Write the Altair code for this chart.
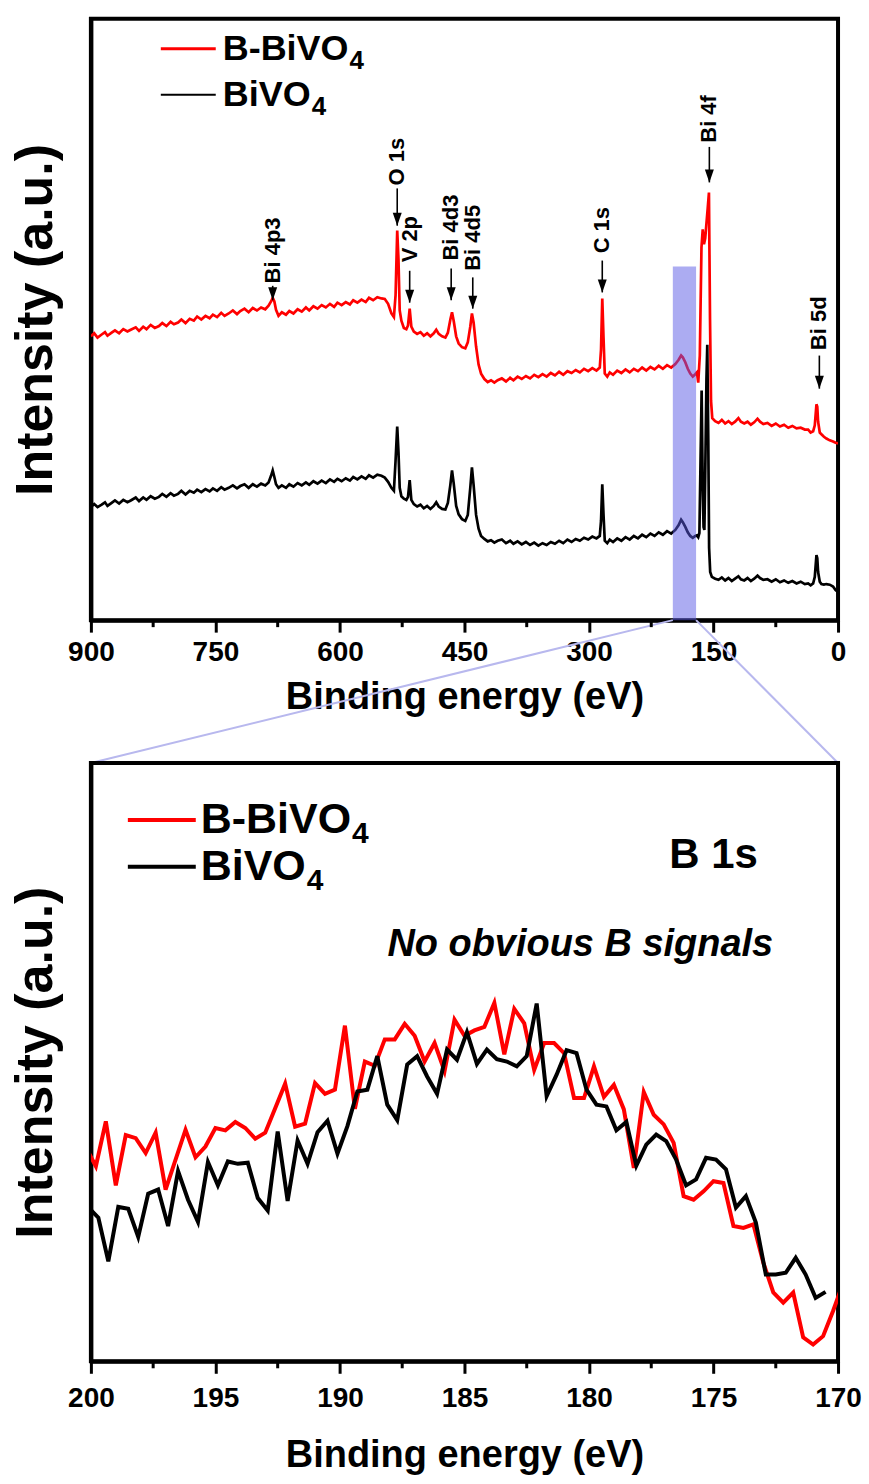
import altair as alt
import pandas as pd

FONT = "Liberation Sans"

# ---------------- survey spectra (energy eV, intensity a.u.) ----------------
survey_red = [
    (900, 47.2), (896, 47.7), (892, 47.0), (887, 47.5), (883, 47.9), (880, 47.3), (875, 47.8), (871, 48.2),
    (866, 47.7), (861, 48.4), (856, 48.0), (852, 48.3), (846, 48.7), (842, 48.1), (837, 48.8), (833, 48.4),
    (828, 49.1), (823, 48.6), (818, 48.9), (814, 49.4), (809, 48.9), (804, 49.6), (800, 49.2), (795, 49.5),
    (791, 50.0), (786, 49.4), (781, 50.1), (776, 49.8), (772, 50.5), (767, 50.0), (762, 50.6), (757, 50.2),
    (753, 50.8), (748, 50.4), (743, 51.1), (739, 50.6), (734, 51.0), (729, 51.5), (724, 50.9), (720, 51.4),
    (715, 51.8), (710, 51.2), (705, 51.9), (700, 51.5), (695, 52.0), (690, 51.7), (686, 52.3), (683, 53.0),
    (681, 53.6), (679, 53.0), (677, 51.6), (674, 50.6), (670, 51.2), (665, 50.8), (661, 51.4), (656, 51.0),
    (651, 51.7), (646, 51.3), (641, 52.0), (637, 51.5), (632, 52.2), (627, 51.8), (622, 52.4), (617, 52.0),
    (612, 52.6), (607, 52.1), (603, 52.8), (598, 52.4), (593, 52.9), (588, 52.5), (584, 53.2), (579, 52.8),
    (574, 53.3), (569, 52.9), (565, 53.6), (560, 53.2), (555, 53.7), (550, 53.5), (546, 53.4), (542, 52.6),
    (538, 51.0), (535, 50.4), (533, 54.0), (531, 64.8), (529.5, 60.0), (528, 51.5), (526, 49.8), (523, 48.6),
    (520, 48.4), (518, 49.0), (516, 51.8), (514, 48.8), (511, 48.0), (507, 47.6), (503, 47.9), (499, 47.3),
    (495, 47.7), (491, 47.2), (487, 47.7), (484, 48.3), (481, 47.6), (477, 47.2), (473, 47.0), (470, 47.8),
    (467, 50.0), (465, 51.2), (463, 49.8), (460, 47.2), (457, 46.0), (453, 45.4), (449, 45.2), (446, 46.2),
    (443, 48.8), (441, 51.0), (439, 49.5), (436, 45.5), (433, 42.5), (430, 41.0), (426, 40.1), (422, 39.6),
    (418, 39.9), (414, 39.5), (410, 39.9), (405, 40.2), (400, 39.7), (395, 40.3), (391, 39.9), (386, 40.5),
    (381, 40.1), (376, 40.6), (371, 40.2), (366, 40.8), (361, 40.4), (356, 40.9), (351, 40.5), (346, 41.1),
    (341, 40.7), (336, 41.3), (331, 40.8), (326, 41.4), (321, 41.1), (316, 41.6), (311, 41.2), (306, 41.8),
    (301, 41.4), (296, 41.9), (291, 41.5), (287, 42.0), (285.5, 45.0), (284, 53.5), (282.5, 47.0), (281, 41.0),
    (278, 40.5), (275, 41.2), (271, 40.8), (266, 41.5), (261, 41.1), (256, 41.7), (251, 41.2), (246, 41.8),
    (241, 41.4), (236, 42.0), (231, 41.5), (226, 42.1), (221, 41.7), (216, 42.3), (211, 41.8), (206, 42.4),
    (201, 42.0), (196, 42.6), (192, 43.3), (189, 44.0), (187, 43.7), (184, 42.9), (181, 41.8), (178, 41.0),
    (175, 40.5), (172, 40.9), (170, 41.2), (168.4, 39.5), (166.5, 44.0), (164.5, 62.0), (163, 65.0),
    (161.5, 62.5), (160, 63.5), (158.5, 66.0), (157, 68.5), (155.5, 71.1), (154.2, 50.0), (153, 36.5),
    (151.5, 33.6), (148, 33.1), (144, 32.8), (140, 33.3), (136, 32.7), (132, 33.1), (128, 32.6), (124, 33.0),
    (120, 33.6), (117, 33.0), (113, 32.7), (109, 33.0), (105, 32.5), (101, 32.9), (97, 33.5), (94, 33.0),
    (90, 32.6), (85, 32.8), (80, 32.3), (75, 32.7), (70, 32.2), (65, 32.5), (60, 32.0), (55, 32.3),
    (50, 31.9), (45, 32.0), (40, 31.7), (36, 31.7), (33, 31.2), (30, 31.4), (28, 32.4), (26, 35.9),
    (25, 35.5), (24, 33.0), (22, 31.2), (20, 30.9), (17, 30.5), (14, 30.2), (10, 29.9), (6, 29.7),
    (3, 29.5), (0, 29.4),
]

survey_black = [
    (900, 18.8), (896, 19.3), (892, 18.8), (887, 19.2), (883, 19.6), (880, 19.0), (875, 19.5), (871, 19.9),
    (866, 19.4), (861, 20.0), (856, 19.6), (852, 19.9), (846, 20.4), (842, 19.8), (837, 20.4), (833, 20.0),
    (828, 20.6), (823, 20.2), (818, 20.5), (814, 21.0), (809, 20.5), (804, 21.1), (800, 20.7), (795, 21.0),
    (791, 21.5), (786, 20.9), (781, 21.5), (776, 21.2), (772, 21.7), (767, 21.3), (762, 21.8), (757, 21.4),
    (753, 21.9), (748, 21.5), (743, 22.1), (739, 21.7), (734, 22.0), (729, 22.4), (724, 21.9), (720, 22.3),
    (715, 22.6), (710, 22.0), (705, 22.6), (700, 22.2), (695, 22.7), (690, 22.4), (686, 22.9), (683, 24.0),
    (681, 24.9), (679, 23.8), (677, 22.6), (674, 22.0), (670, 22.4), (665, 22.0), (661, 22.6), (656, 22.2),
    (651, 22.8), (646, 22.4), (641, 22.9), (637, 22.5), (632, 23.1), (627, 22.7), (622, 23.2), (617, 22.8),
    (612, 23.4), (607, 23.0), (603, 23.5), (598, 23.1), (593, 23.6), (588, 23.2), (584, 23.8), (579, 23.4),
    (574, 23.9), (569, 23.5), (565, 24.1), (560, 23.7), (555, 24.2), (550, 24.0), (546, 23.7), (542, 23.0),
    (538, 22.0), (535, 21.5), (533, 26.5), (531, 32.2), (529.5, 28.0), (528, 22.0), (526, 20.6), (523, 20.2),
    (520, 20.0), (518, 20.5), (516, 23.3), (514, 20.0), (511, 19.3), (507, 18.9), (503, 19.2), (499, 18.6),
    (495, 19.0), (491, 18.5), (487, 19.0), (484, 19.6), (481, 18.9), (477, 18.5), (473, 18.4), (470, 19.5),
    (467, 22.5), (465, 24.9), (463, 22.8), (460, 19.0), (457, 17.6), (453, 16.8), (449, 16.5), (446, 17.5),
    (443, 22.0), (441, 25.4), (439, 22.5), (436, 17.5), (433, 15.2), (430, 14.0), (426, 13.5), (422, 13.1),
    (418, 13.3), (414, 12.9), (410, 13.2), (405, 13.4), (400, 12.8), (395, 13.2), (391, 12.7), (386, 13.1),
    (381, 12.6), (376, 13.0), (371, 12.5), (366, 12.9), (361, 12.4), (356, 12.8), (351, 12.5), (346, 13.0),
    (341, 12.7), (336, 13.2), (331, 12.8), (326, 13.4), (321, 13.0), (316, 13.5), (311, 13.2), (306, 13.7),
    (301, 13.4), (296, 13.9), (291, 13.6), (287, 14.0), (285.5, 16.5), (284, 22.6), (282.5, 17.5), (281, 13.2),
    (278, 12.8), (275, 13.4), (271, 13.0), (266, 13.6), (261, 13.2), (256, 13.8), (251, 13.4), (246, 14.0),
    (241, 13.6), (236, 14.2), (231, 13.8), (226, 14.4), (221, 14.0), (216, 14.6), (211, 14.2), (206, 14.8),
    (201, 14.4), (196, 15.0), (192, 15.8), (189, 16.7), (187, 16.3), (184, 15.5), (181, 14.6), (178, 14.0),
    (175, 13.7), (172, 14.0), (170, 14.1), (168.4, 13.8), (167, 14.5), (165.8, 25.0), (164.3, 38.2),
    (163, 22.0), (162, 15.5), (161, 15.0), (160, 24.0), (158.5, 40.0), (157.5, 45.8), (156.3, 30.0),
    (155.3, 12.0), (154, 8.0), (152, 7.2), (148, 6.9), (144, 6.7), (140, 7.1), (136, 6.6), (132, 7.0),
    (128, 6.5), (124, 6.9), (120, 7.3), (117, 6.8), (113, 6.6), (109, 7.0), (105, 6.5), (101, 6.9),
    (97, 7.4), (94, 7.0), (90, 6.7), (85, 6.8), (80, 6.4), (75, 6.8), (70, 6.3), (65, 6.6),
    (60, 6.2), (55, 6.5), (50, 6.1), (45, 6.4), (40, 6.0), (36, 6.1), (33, 5.8), (30, 6.1),
    (28, 7.2), (26, 10.8), (25, 10.3), (24, 8.0), (22, 6.4), (20, 6.0), (17, 5.9), (14, 6.0),
    (10, 5.9), (6, 5.6), (3, 5.0), (0, 4.7),
]

# ---------------- B 1s high resolution (energy eV, intensity a.u.) ----------------
b1s_red = [
    (200.2, 35.7), (199.8, 32.6), (199.4, 40.1), (199.0, 29.4), (198.6, 37.8), (198.2, 37.3), (197.8, 34.8),
    (197.4, 38.2), (197.0, 28.7), (196.6, 33.7), (196.2, 38.7), (195.8, 34.1), (195.4, 35.9), (195.0, 39.0),
    (194.6, 38.6), (194.2, 40.0), (193.8, 39.0), (193.4, 37.2), (193.0, 38.2), (192.6, 42.3), (192.2, 46.4),
    (191.8, 39.2), (191.4, 39.7), (191.0, 46.5), (190.6, 44.7), (190.2, 45.4), (189.8, 56.1), (189.4, 42.2),
    (189.0, 50.1), (188.6, 49.4), (188.2, 53.8), (187.8, 53.8), (187.4, 56.4), (187.0, 54.4), (186.6, 50.1),
    (186.2, 53.2), (185.8, 48.5), (185.4, 57.1), (185.0, 54.4), (184.6, 55.3), (184.2, 55.9), (183.8, 59.9),
    (183.4, 51.3), (183.0, 58.9), (182.6, 56.5), (182.2, 48.7), (181.8, 53.2), (181.4, 53.2), (181.0, 51.5),
    (180.6, 44.0), (180.2, 44.0), (179.8, 49.3), (179.4, 44.2), (179.0, 46.2), (178.6, 42.1), (178.2, 32.3),
    (177.8, 45.0), (177.4, 41.2), (177.0, 39.6), (176.6, 36.5), (176.2, 27.6), (175.8, 27.0), (175.4, 28.4),
    (175.0, 30.1), (174.6, 29.8), (174.2, 22.6), (173.8, 22.3), (173.4, 22.9), (173.0, 16.5), (172.6, 11.5),
    (172.2, 9.8), (171.8, 11.5), (171.4, 4.0), (171.0, 2.8), (170.6, 4.2), (170.2, 8.4), (169.8, 13.0),
]

b1s_black = [
    (200.1, 25.7), (199.7, 24.0), (199.3, 16.7), (198.9, 25.8), (198.5, 25.5), (198.1, 20.8), (197.7, 28.0),
    (197.3, 28.7), (196.9, 22.6), (196.5, 31.8), (196.1, 27.0), (195.7, 23.3), (195.3, 33.3), (194.9, 29.4),
    (194.5, 33.4), (194.1, 33.0), (193.7, 33.2), (193.3, 27.3), (192.9, 25.2), (192.5, 38.4), (192.1, 26.8),
    (191.7, 36.9), (191.3, 33.0), (190.9, 38.3), (190.5, 40.2), (190.1, 34.7), (189.7, 39.3), (189.3, 45.1),
    (188.9, 45.4), (188.5, 51.0), (188.1, 42.9), (187.7, 40.3), (187.3, 49.6), (186.9, 51.0), (186.5, 47.6),
    (186.1, 44.7), (185.7, 52.1), (185.3, 50.4), (184.9, 55.0), (184.5, 49.7), (184.1, 52.1), (183.7, 50.5),
    (183.3, 50.1), (182.9, 49.3), (182.5, 51.0), (182.1, 59.8), (181.7, 44.3), (181.3, 47.9), (180.9, 52.0),
    (180.5, 51.5), (180.1, 45.4), (179.7, 42.9), (179.3, 42.6), (178.9, 38.6), (178.5, 40.0), (178.1, 32.7),
    (177.7, 36.2), (177.3, 37.9), (176.9, 36.8), (176.5, 33.7), (176.1, 29.4), (175.7, 30.4), (175.3, 34.0),
    (174.9, 33.7), (174.5, 32.1), (174.1, 25.7), (173.7, 27.6), (173.3, 23.2), (172.9, 14.5), (172.5, 14.5),
    (172.1, 14.8), (171.7, 17.3), (171.3, 14.5), (170.9, 10.6), (170.5, 11.6),
]

# ---------------- annotations ----------------
peak_labels = ["Bi 4p3", "O 1s", "V 2p", "Bi 4d3", "Bi 4d5", "C 1s", "Bi 4f", "Bi 5d"]
peak_energy = [681, 531, 516, 466, 440, 284, 155, 22.5]
peak_text_start = [56.0, 72.3, 59.5, 59.8, 58.1, 61.0, 79.4, 44.9]
peak_arrow_top = [55.6, 71.8, 58.1, 58.5, 57.0, 59.8, 78.7, 44.0]
peak_arrow_tip = [53.2, 65.6, 52.8, 53.2, 51.8, 54.5, 72.8, 38.5]

zoom_window = [199, 171]          # shaded region on the survey (eV)
zoom_window_top = 58.8

top_ticks = [900, 750, 600, 450, 300, 150, 0]
top_minor = [825, 675, 525, 375, 225, 75]
bottom_ticks = [200, 195, 190, 185, 180, 175, 170]
bottom_minor = [197.5, 192.5, 187.5, 182.5, 177.5, 172.5]

series_names = ["B-BiVO", "BiVO"]   # legend text, subscript "4" added
series_sub = "4"
b1s_label = "B 1s"
note_label = "No obvious B signals"

# ---------------- layout ----------------
W = 748
H1 = 602
H2 = 599
GAP = 143
RED = "#ff0000"
BLACK = "#000000"
YTITLE = 52


def to_df(pairs):
    return pd.DataFrame({"energy": [p[0] for p in pairs], "intensity": [p[1] for p in pairs]})


def xt(field="energy"):
    return alt.X(f"{field}:Q", title="Binding energy (eV)",
                 scale=alt.Scale(domain=[0, 900], reverse=True, nice=False, zero=False),
                 axis=alt.Axis(values=top_ticks, format="d"))


def yt(field="intensity"):
    return alt.Y(f"{field}:Q", title="Intensity (a.u.)",
                 scale=alt.Scale(domain=[0, 100], nice=False, zero=False),
                 axis=alt.Axis(labels=False, ticks=False, titlePadding=28, titleFontSize=YTITLE))


def xb(field="energy"):
    return alt.X(f"{field}:Q", title="Binding energy (eV)",
                 scale=alt.Scale(domain=[170, 200], reverse=True, nice=False, zero=False),
                 axis=alt.Axis(values=bottom_ticks, format="d", labelPadding=11, titlePadding=24))


def yb(field="intensity"):
    return alt.Y(f"{field}:Q", title="Intensity (a.u.)",
                 scale=alt.Scale(domain=[0, 100], nice=False, zero=False),
                 axis=alt.Axis(labels=False, ticks=False, titlePadding=28, titleFontSize=YTITLE))


def legend_layers(row_y, line_x, line_len, text_x, fsize, sub_size, widths, sub_dy):
    layers = []
    cols = [RED, BLACK]
    em = {"B": 0.722, "-": 0.333, "i": 0.278, "V": 0.667, "O": 0.778}
    for i, name in enumerate(series_names):
        d = pd.DataFrame({"t": [name], "s": [series_sub]})
        layers.append(alt.Chart(d).mark_rule(color=cols[i], strokeWidth=widths[i]).encode(
            x=alt.value(line_x), x2=alt.value(line_x + line_len), y=alt.value(row_y[i])))
        layers.append(alt.Chart(d).mark_text(align="left", baseline="middle", font=FONT,
                                              fontWeight="bold", fontSize=fsize, color="black").encode(
            text="t:N", x=alt.value(text_x), y=alt.value(row_y[i])))
        tw = sum(em.get(c, 0.6) for c in name) * fsize
        layers.append(alt.Chart(d).mark_text(align="left", baseline="middle", font=FONT,
                                              fontWeight="bold", fontSize=sub_size, color="black").encode(
            text="s:N", x=alt.value(text_x + tw + 1), y=alt.value(row_y[i] + sub_dy)))
    return layers


# ---------------- top panel ----------------
red_df = to_df(survey_red)
black_df = to_df(survey_black)

line_black = alt.Chart(black_df).mark_line(color=BLACK, strokeWidth=2.7, clip=True).encode(x=xt(), y=yt())
line_red = alt.Chart(red_df).mark_line(color=RED, strokeWidth=2.7, clip=True).encode(x=xt(), y=yt())

rect_df = pd.DataFrame({"e1": [zoom_window[0]], "e2": [zoom_window[1]], "v0": [0], "v1": [zoom_window_top]})
shade = alt.Chart(rect_df).mark_rect(color="#5a5ae6", opacity=0.5).encode(
    x=xt("e1"), x2="e2", y=yt("v0"), y2="v1")

ann_df = pd.DataFrame({"energy": peak_energy, "label": peak_labels, "ts": peak_text_start,
                       "at": peak_arrow_top, "tip": peak_arrow_tip})
arrows = alt.Chart(ann_df).mark_rule(color="black", strokeWidth=1.6).encode(x=xt(), y=yt("at"), y2="tip")
heads = alt.Chart(ann_df).mark_point(shape="M -0.9 -2.6 L 0.9 -2.6 L 0 0 Z", filled=True, size=100,
                                     color="black", opacity=1, strokeWidth=0).encode(x=xt(), y=yt("tip"))
labels = alt.Chart(ann_df).mark_text(angle=270, align="left", baseline="middle", font=FONT,
                                     fontSize=22, fontWeight="bold", color="black").encode(
    x=xt(), y=yt("ts"), text="label:N")

minor_top = alt.Chart(pd.DataFrame({"energy": top_minor})).mark_rule(color="black", strokeWidth=3).encode(
    x=xt(), y=alt.value(H1), y2=alt.value(H1 + 7))

conn_df = pd.DataFrame({"energy": zoom_window})
conn_left = alt.Chart(conn_df.iloc[[0]]).mark_rule(color="#b8b8ee", strokeWidth=2).encode(
    x=xt(), x2=alt.value(0), y=alt.value(H1), y2=alt.value(H1 + GAP))
conn_right = alt.Chart(conn_df.iloc[[1]]).mark_rule(color="#b8b8ee", strokeWidth=2).encode(
    x=xt(), x2=alt.value(W), y=alt.value(H1), y2=alt.value(H1 + GAP))

top_legend = legend_layers(row_y=[30, 76], line_x=70, line_len=55, text_x=132, fsize=36, sub_size=26,
                           widths=[3, 2], sub_dy=12)

top = alt.layer(conn_left, conn_right, line_black, line_red, shade, arrows, heads, labels, minor_top,
                *top_legend).properties(width=W, height=H1)

# ---------------- bottom panel ----------------
bred_df = to_df(b1s_red)
bblack_df = to_df(b1s_black)
bline_red = alt.Chart(bred_df).mark_line(color=RED, strokeWidth=4, clip=True).encode(x=xb(), y=yb())
bline_black = alt.Chart(bblack_df).mark_line(color=BLACK, strokeWidth=4, clip=True).encode(x=xb(), y=yb())

minor_bot = alt.Chart(pd.DataFrame({"energy": bottom_minor})).mark_rule(color="black", strokeWidth=3).encode(
    x=xb(), y=alt.value(H2), y2=alt.value(H2 + 7))

txt_df = pd.DataFrame({"energy": [175.0, 180.35], "intensity": [84.6, 69.6],
                       "t": [b1s_label, note_label]})
b1s_text = alt.Chart(txt_df.iloc[[0]]).mark_text(font=FONT, fontWeight="bold", fontSize=42,
                                                 color="black", baseline="middle").encode(
    x=xb(), y=yb(), text="t:N")
note_text = alt.Chart(txt_df.iloc[[1]]).mark_text(font=FONT, fontWeight="bold", fontStyle="italic",
                                                  fontSize=38, color="black", baseline="middle").encode(
    x=xb(), y=yb(), text="t:N")

bot_legend = legend_layers(row_y=[57, 104], line_x=37, line_len=68, text_x=110, fsize=43, sub_size=30,
                           widths=[4, 4], sub_dy=14)

bottom = alt.layer(bline_red, bline_black, minor_bot, b1s_text, note_text,
                   *bot_legend).properties(width=W, height=H2)

chart = alt.vconcat(top, bottom, spacing=GAP, bounds="flush").properties(
    padding={"left": 8, "top": 16, "right": 5, "bottom": 10}
).configure_view(stroke="black", strokeWidth=4).configure_axis(
    grid=False, domainColor="black", domainWidth=4, tickColor="black", tickWidth=3, tickSize=12,
    labelFont=FONT, labelFontSize=28, labelFontWeight="bold", labelColor="black", labelPadding=6,
    labelFlush=False, labelOverlap=False,
    titleFont=FONT, titleFontSize=38, titleFontWeight="bold", titleColor="black", titlePadding=12,
)

chart.save("out.html", embed_options={"renderer": "svg", "actions": False})
